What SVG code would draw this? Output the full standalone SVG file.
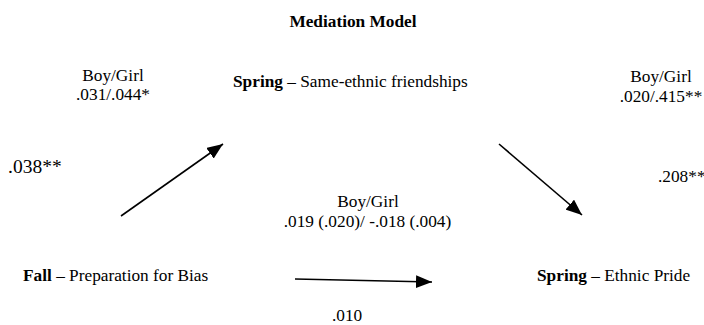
<svg xmlns="http://www.w3.org/2000/svg" width="704" height="325" viewBox="0 0 704 325">
<style>
text{font-family:'Liberation Serif','Times New Roman',Tinos,'DejaVu Serif',serif;font-size:17.3px;fill:#000}
.b{font-weight:bold}
.c{text-anchor:middle}
.ln{stroke:#000;stroke-width:1.6;fill:none}
</style>
<defs>
<marker id="ah" markerUnits="userSpaceOnUse" markerWidth="17" markerHeight="13" refX="16" refY="6.5" orient="auto">
<path d="M0,0 L16,6.5 L0,13 z" fill="#000"/>
</marker>
</defs>
<rect width="704" height="325" fill="#fff"/>
<text class="b c" x="353" y="27">Mediation Model</text>
<g id="mediator"><text x="233" y="87"><tspan class="b">Spring</tspan> – Same-ethnic friendships</text></g>
<g id="predictor"><text x="23" y="281"><tspan class="b">Fall</tspan> – Preparation for Bias</text></g>
<g id="outcome"><text x="537" y="281"><tspan class="b">Spring</tspan> – Ethnic Pride</text></g>
<g id="connectors">
<line class="ln" x1="121" y1="216" x2="223" y2="144" marker-end="url(#ah)"/>
<line class="ln" x1="499" y1="144" x2="582" y2="215" marker-end="url(#ah)"/>
<line class="ln" x1="295" y1="279" x2="432" y2="282" marker-end="url(#ah)"/>
</g>
<g id="labels">
<text class="c" x="113" y="81">Boy/Girl</text>
<text class="c" x="113" y="100">.031/.044*</text>
<text class="c" x="661" y="82">Boy/Girl</text>
<text class="c" x="661" y="102">.020/.415**</text>
<text x="8" y="173" style="font-size:19.5px">.038**</text>
<text x="658" y="182">.208**</text>
<text class="c" x="368" y="207">Boy/Girl</text>
<text class="c" x="367.5" y="227">.019 (.020)/ -.018 (.004)</text>
<text x="332" y="321">.010</text>
</g>
</svg>
